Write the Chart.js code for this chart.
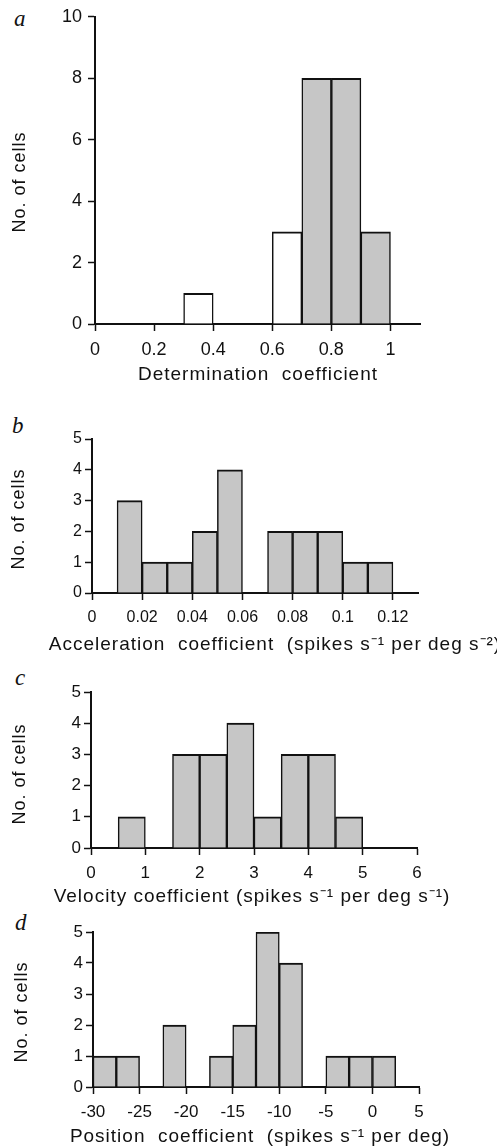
<!DOCTYPE html>
<html>
<head>
<meta charset="utf-8">
<script src="https://cdn.jsdelivr.net/npm/chart.js@4.4.1/dist/chart.umd.min.js"></script>
<style>
body { margin: 0; background: #fff; width: 497px; height: 1148px; position: relative; overflow: hidden; }
canvas { position: absolute; left: 0; }
.tag { position: absolute; font: italic 23px "Liberation Serif", serif; color: #111; line-height: 1; }
</style>
</head>
<body>
<div class="tag" style="left:14px;top:7px">a</div>
<div class="tag" style="left:12px;top:414px">b</div>
<div class="tag" style="left:15px;top:666px">c</div>
<div class="tag" style="left:15px;top:911px">d</div>
<canvas id="chartA" width="497" height="395" style="top:0px"></canvas>
<canvas id="chartB" width="497" height="235" style="top:425px"></canvas>
<canvas id="chartC" width="497" height="240" style="top:672px"></canvas>
<canvas id="chartD" width="497" height="236" style="top:912px"></canvas>
<script>
// a: determination coefficient
var detBinStart = [0, 0.1, 0.2, 0.3, 0.4, 0.5, 0.6, 0.7, 0.8, 0.9]
var detCounts = [0, 0, 0, 1, 0, 0, 3, 8, 8, 3]
var detShaded = [0, 0, 0, 0, 0, 0, 0, 1, 1, 1]
var detTicks = [0, 0.2, 0.4, 0.6, 0.8, 1]
var detTickLabels = ['0', '0.2', '0.4', '0.6', '0.8', '1']
var detYTicks = [0, 2, 4, 6, 8, 10]

// b: acceleration coefficient
var accBinStart = [0, 0.01, 0.02, 0.03, 0.04, 0.05, 0.06, 0.07, 0.08, 0.09, 0.1, 0.11]
var accCounts = [0, 3, 1, 1, 2, 4, 0, 2, 2, 2, 1, 1]
var accTicks = [0, 0.02, 0.04, 0.06, 0.08, 0.1, 0.12]
var accTickLabels = ['0', '0.02', '0.04', '0.06', '0.08', '0.1', '0.12']

// c: velocity coefficient
var velBinStart = [0, 0.5, 1, 1.5, 2, 2.5, 3, 3.5, 4, 4.5]
var velCounts = [0, 1, 0, 3, 3, 4, 1, 3, 3, 1]
var velTicks = [0, 1, 2, 3, 4, 5, 6]
var velTickLabels = ['0', '1', '2', '3', '4', '5', '6']

// d: position coefficient
var posBinStart = [-30, -27.5, -25, -22.5, -20, -17.5, -15, -12.5, -10, -7.5, -5, -2.5, 0]
var posCounts = [1, 1, 0, 2, 0, 1, 2, 5, 4, 0, 1, 1, 1]
var posTicks = [-30, -25, -20, -15, -10, -5, 0, 5]
var posTickLabels = ['-30', '-25', '-20', '-15', '-10', '-5', '0', '5']

var smallYTicks = [0, 1, 2, 3, 4, 5]

var INK = '#111'
var SHADE = '#c6c6c6'

// axis titles drawn by hand so they are not squeezed to the axis width
var axisText = {
    id: 'axisText',
    afterDraw: function (chart, args, opts) {
        var ctx = chart.ctx
        ctx.save()
        ctx.fillStyle = INK
        ctx.letterSpacing = '1px'
        ctx.textAlign = 'center'
        ctx.textBaseline = 'middle'
        ctx.font = opts.xFont
        ctx.fillText(opts.xTitle, opts.xPos[0], opts.xPos[1])
        ctx.translate(opts.yPos[0], opts.yPos[1])
        ctx.rotate(-Math.PI / 2)
        ctx.font = opts.yFont
        ctx.fillText('No. of cells', 0, 0)
        ctx.restore()
    }
}

function makePanel(id, p) {
    var pts = []
    var colors = []
    for (var i = 0; i < p.starts.length; i++) {
        pts.push({ x: p.starts[i] + p.binWidth / 2, y: p.counts[i] })
        colors.push(p.shaded ? (p.shaded[i] ? SHADE : '#fff') : SHADE)
    }
    return new Chart(document.getElementById(id), {
        type: 'bar',
        data: {
            datasets: [{
                data: pts,
                backgroundColor: colors,
                borderColor: INK,
                borderWidth: { top: 2, left: 1.5, right: 1.5, bottom: 0 },
                barPercentage: 1,
                categoryPercentage: 1
            }]
        },
        options: {
            responsive: false,
            animation: false,
            events: [],
            layout: { padding: { top: p.pad[0], right: p.pad[1], bottom: 0, left: 0 } },
            plugins: {
                legend: { display: false },
                tooltip: { enabled: false },
                axisText: { xTitle: p.xTitle, xFont: p.xFont, xPos: p.xPos, yFont: p.yFont, yPos: p.yPos }
            },
            scales: {
                x: {
                    type: 'linear',
                    offset: false,
                    min: p.range[0],
                    max: p.range[1],
                    afterBuildTicks: function (s) { s.ticks = p.ticks.map(function (v) { return { value: v } }) },
                    afterFit: function (s) { s.height = p.xHeight },
                    border: { display: true, color: INK, width: 2 },
                    grid: { offset: false, drawOnChartArea: false, drawTicks: true, tickLength: 7, tickColor: INK, tickWidth: 1.5 },
                    ticks: {
                        color: INK, padding: 8, maxRotation: 0, autoSkip: false,
                        font: { family: 'Liberation Sans', size: p.xTickSize },
                        callback: function (v, i) { return p.tickLabels[i] }
                    }
                },
                y: {
                    min: 0,
                    max: p.yTicks[p.yTicks.length - 1],
                    afterBuildTicks: function (s) { s.ticks = p.yTicks.map(function (v) { return { value: v } }) },
                    afterFit: function (s) { s.width = p.yWidth },
                    border: { display: true, color: INK, width: 2 },
                    grid: { drawOnChartArea: false, drawTicks: true, tickLength: 7, tickColor: INK, tickWidth: 1.5 },
                    ticks: {
                        color: INK, padding: p.yPad,
                        font: { family: 'Liberation Sans', size: p.yTickSize },
                        callback: function (v) { return String(v) }
                    }
                }
            }
        },
        plugins: [axisText]
    })
}

function Graphic() {
    makePanel('chartA', {
        starts: detBinStart, counts: detCounts, shaded: detShaded, binWidth: 0.1,
        range: [0, 1.1], ticks: detTicks, tickLabels: detTickLabels, yTicks: detYTicks,
        pad: [15, 77], yWidth: 95, xHeight: 71, yPad: 6, xTickSize: 18, yTickSize: 18,
        xTitle: 'Determination  coefficient', xFont: '19px "Liberation Sans"', xPos: [258, 375],
        yFont: '18px "Liberation Sans"', yPos: [20, 182]
    })
    makePanel('chartB', {
        starts: accBinStart, counts: accCounts, binWidth: 0.01,
        range: [0, 0.13], ticks: accTicks, tickLabels: accTickLabels, yTicks: smallYTicks,
        pad: [14, 79], yWidth: 92, xHeight: 67, yPad: 3, xTickSize: 16, yTickSize: 16,
        xTitle: 'Acceleration  coefficient  (spikes s\u207B\u00B9 per deg s\u207B\u00B2)', xFont: '19px "Liberation Sans"', xPos: [275, 220],
        yFont: '18px "Liberation Sans"', yPos: [19, 94]
    })
    makePanel('chartC', {
        starts: velBinStart, counts: velCounts, binWidth: 0.5,
        range: [0, 6], ticks: velTicks, tickLabels: velTickLabels, yTicks: smallYTicks,
        pad: [20, 80], yWidth: 91, xHeight: 64, yPad: 3, xTickSize: 17, yTickSize: 17,
        xTitle: 'Velocity coefficient (spikes s\u207B\u00B9 per deg s\u207B\u00B9)', xFont: '19px "Liberation Sans"', xPos: [252, 225],
        yFont: '18px "Liberation Sans"', yPos: [20, 102]
    })
    makePanel('chartD', {
        starts: posBinStart, counts: posCounts, binWidth: 2.5,
        range: [-30, 5], ticks: posTicks, tickLabels: posTickLabels, yTicks: smallYTicks,
        pad: [20, 78], yWidth: 93, xHeight: 61, yPad: 3, xTickSize: 17, yTickSize: 17,
        xTitle: 'Position  coefficient  (spikes s\u207B\u00B9 per deg)', xFont: '19px "Liberation Sans"', xPos: [260, 225],
        yFont: '18px "Liberation Sans"', yPos: [22, 100]
    })
}

window.addEventListener('load', Graphic)
</script>
</body>
</html>
